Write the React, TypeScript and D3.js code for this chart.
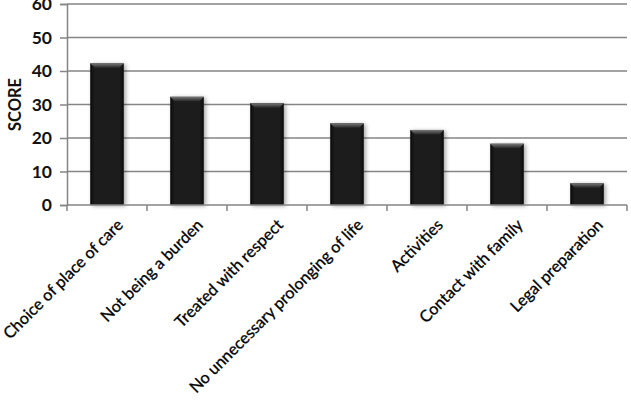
import React, { useEffect, useRef } from 'react';
import * as d3 from 'd3';

const categories = [
  'Choice of place of care',
  'Not being a burden',
  'Treated with respect',
  'No unnecessary prolonging of life',
  'Activities',
  'Contact with family',
  'Legal preparation',
];
const scores = [42.3, 32.3, 30.4, 24.4, 22.4, 18.3, 6.5];
const yTicks = [0, 10, 20, 30, 40, 50, 60];
const yTitle = 'SCORE';

const W = 631;
const H = 402;
const margin = { left: 67, right: 4, top: 4, bottom: 197 };
const FONT = "Lato, 'Open Sans', sans-serif";

const App = () => {
  const svgRef = useRef<SVGSVGElement>(null);

  useEffect(() => {
    document.body.style.margin = '0';
    const svg = d3.select(svgRef.current);
    svg.selectAll('*').remove();

    const x = d3
      .scaleBand<string>()
      .domain(categories)
      .range([margin.left, W - margin.right])
      .paddingInner(0.58)
      .paddingOuter(0.29);
    const y = d3.scaleLinear().domain([0, 60]).range([H - margin.bottom, margin.top]);

    const defs = svg.append('defs');
    const g1 = defs.append('linearGradient').attr('id', 'barFill').attr('x1', 0).attr('x2', 1).attr('y1', 0).attr('y2', 0);
    g1.append('stop').attr('offset', 0).attr('stop-color', '#0c0c0c');
    g1.append('stop').attr('offset', 0.12).attr('stop-color', '#1c1c1c');
    g1.append('stop').attr('offset', 0.88).attr('stop-color', '#1c1c1c');
    g1.append('stop').attr('offset', 1).attr('stop-color', '#0c0c0c');
    const g2 = defs.append('linearGradient').attr('id', 'bevel').attr('x1', 0).attr('x2', 0).attr('y1', 0).attr('y2', 1);
    g2.append('stop').attr('offset', 0).attr('stop-color', '#7a7a7a');
    g2.append('stop').attr('offset', 1).attr('stop-color', '#1c1c1c');
    const shadow = defs.append('filter').attr('id', 'shadow').attr('x', '-30%').attr('y', '-10%').attr('width', '160%').attr('height', '130%');
    shadow.append('feDropShadow').attr('dx', 2).attr('dy', 1).attr('stdDeviation', 2).attr('flood-color', '#000').attr('flood-opacity', 0.35);

    // gridlines
    svg
      .append('g')
      .selectAll('line')
      .data(yTicks.filter((t) => t > 0))
      .join('line')
      .attr('x1', margin.left)
      .attr('x2', W - margin.right)
      .attr('y1', (d) => y(d))
      .attr('y2', (d) => y(d))
      .attr('stroke', '#858585')
      .attr('stroke-width', 1.5);

    // y axis
    const yAxis = svg
      .append('g')
      .attr('transform', `translate(${margin.left},0)`)
      .call(d3.axisLeft(y).tickValues(yTicks).tickSize(7).tickPadding(8));
    yAxis.select('.domain').attr('stroke', '#858585').attr('stroke-width', 1.5);
    yAxis.selectAll('.tick line').attr('stroke', '#858585').attr('stroke-width', 1.5);
    yAxis
      .selectAll('.tick text')
      .attr('font-family', FONT)
      .attr('font-size', 17.5)
      .attr('font-weight', 700)
      .attr('fill', '#111');

    // bars
    const bars = svg.append('g');
    bars
      .selectAll('rect.bar')
      .data(scores)
      .join('rect')
      .attr('class', 'bar')
      .attr('x', (_, i) => x(categories[i])!)
      .attr('y', (d) => y(d))
      .attr('width', x.bandwidth())
      .attr('height', (d) => y(0) - y(d))
      .attr('fill', 'url(#barFill)')
      .attr('filter', 'url(#shadow)');
    bars
      .selectAll('path.bevel')
      .data(scores)
      .join('path')
      .attr('class', 'bevel')
      .attr('d', (d, i) => {
        const x0 = x(categories[i])!;
        const x1 = x0 + x.bandwidth();
        const t = y(d);
        return `M${x0},${t}L${x1},${t}L${x1 - 5},${t + 5}L${x0 + 5},${t + 5}Z`;
      })
      .attr('fill', 'url(#bevel)');

    // x axis
    const xb = svg.append('g').attr('transform', `translate(0,${y(0)})`);
    xb.append('line')
      .attr('x1', margin.left)
      .attr('x2', W - margin.right)
      .attr('stroke', '#858585')
      .attr('stroke-width', 1.5);
    const step = x.step();
    xb.selectAll('line.tk')
      .data(d3.range(categories.length + 1))
      .join('line')
      .attr('class', 'tk')
      .attr('x1', (i) => margin.left + i * step)
      .attr('x2', (i) => margin.left + i * step)
      .attr('y1', 0)
      .attr('y2', 6)
      .attr('stroke', '#858585')
      .attr('stroke-width', 1.5);

    xb.selectAll('text')
      .data(categories)
      .join('text')
      .attr('transform', (d) => `translate(${x(d)! + x.bandwidth() / 2 + 13},${17}) rotate(-45)`)
      .attr('text-anchor', 'end')
      .attr('dy', '0.35em')
      .attr('font-family', FONT)
      .attr('font-size', 16.2)
      .attr('fill', '#000')
      .attr('stroke', '#000')
      .attr('stroke-width', 0.3)
      .text((d) => d);

    svg
      .append('text')
      .attr('transform', `translate(15,${(y(0) + y(60)) / 2}) rotate(-90)`)
      .attr('text-anchor', 'middle')
      .attr('dy', '0.35em')
      .attr('font-family', FONT)
      .attr('font-size', 16.5)
      .attr('font-weight', 700)
      .attr('fill', '#111')
      .text(yTitle);
  }, []);

  return (
    <svg
      ref={svgRef}
      width={W}
      height={H}
      style={{ position: 'absolute', left: 0, top: 0, background: '#fff' }}
    />
  );
};

export default App;
